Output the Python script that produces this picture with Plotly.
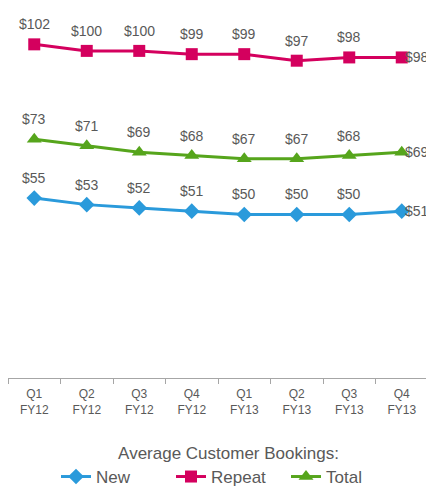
import plotly.graph_objects as go

quarters = ["Q1<br>FY12", "Q2<br>FY12", "Q3<br>FY12", "Q4<br>FY12",
            "Q1<br>FY13", "Q2<br>FY13", "Q3<br>FY13", "Q4<br>FY13"]
new_vals = [55, 53, 52, 51, 50, 50, 50, 51]
repeat_vals = [102, 100, 100, 99, 99, 97, 98, 98]
total_vals = [73, 71, 69, 68, 67, 67, 68, 69]

FONT = "Liberation Sans, Arial, sans-serif"
series = [
    ("New", new_vals, "#2A9ADB", "diamond", 12),
    ("Repeat", repeat_vals, "#D4005E", "square", 12),
    ("Total", total_vals, "#56A51C", "triangle-up", 13),
]

fig = go.Figure()
annotations = []
for name, vals, color, symbol, msize in series:
    fig.add_trace(go.Scatter(
        x=quarters, y=vals, name=name, mode="lines+markers",
        line=dict(color=color, width=3),
        marker=dict(color=color, symbol=symbol, size=msize),
        cliponaxis=False,
    ))
    n = len(vals)
    for i, (q, v) in enumerate(zip(quarters, vals)):
        last = i == n - 1
        annotations.append(dict(
            x=q, y=v, xref="x", yref="y", text=f"${v}", showarrow=False,
            xanchor="left" if last else "center", yanchor="middle",
            xshift=1 if last else 0, yshift=0 if last else 20,
            font=dict(family=FONT, size=14, color="#595959"),
        ))

fig.update_layout(
    width=434, height=487,
    margin=dict(l=0, r=14, t=2, b=117, autoexpand=False),
    paper_bgcolor="white", plot_bgcolor="white",
    font=dict(family=FONT, color="#595959"),
    annotations=annotations,
    xaxis=dict(
        type="category", tickson="boundaries", ticks="outside", ticklen=5,
        tickcolor="#A6A6A6", showline=True, linecolor="#A6A6A6", linewidth=1,
        showgrid=False, tickfont=dict(size=12, color="#595959"),
        ticklabelstandoff=5, automargin=False,
        range=[-0.5, 7.5], fixedrange=True,
    ),
    yaxis=dict(range=[0, 112.5], visible=False, showgrid=False, zeroline=False,
               automargin=False),
    showlegend=True,
    legend=dict(
        orientation="h", x=0.525, xanchor="center", y=-0.16, yanchor="top",
        title=dict(text="Average Customer Bookings:", side="top center",
                   font=dict(size=17, color="#595959")),
        font=dict(size=17, color="#595959"),
        itemwidth=30, entrywidth=70,
    ),
)

fig.write_html("out.html")
